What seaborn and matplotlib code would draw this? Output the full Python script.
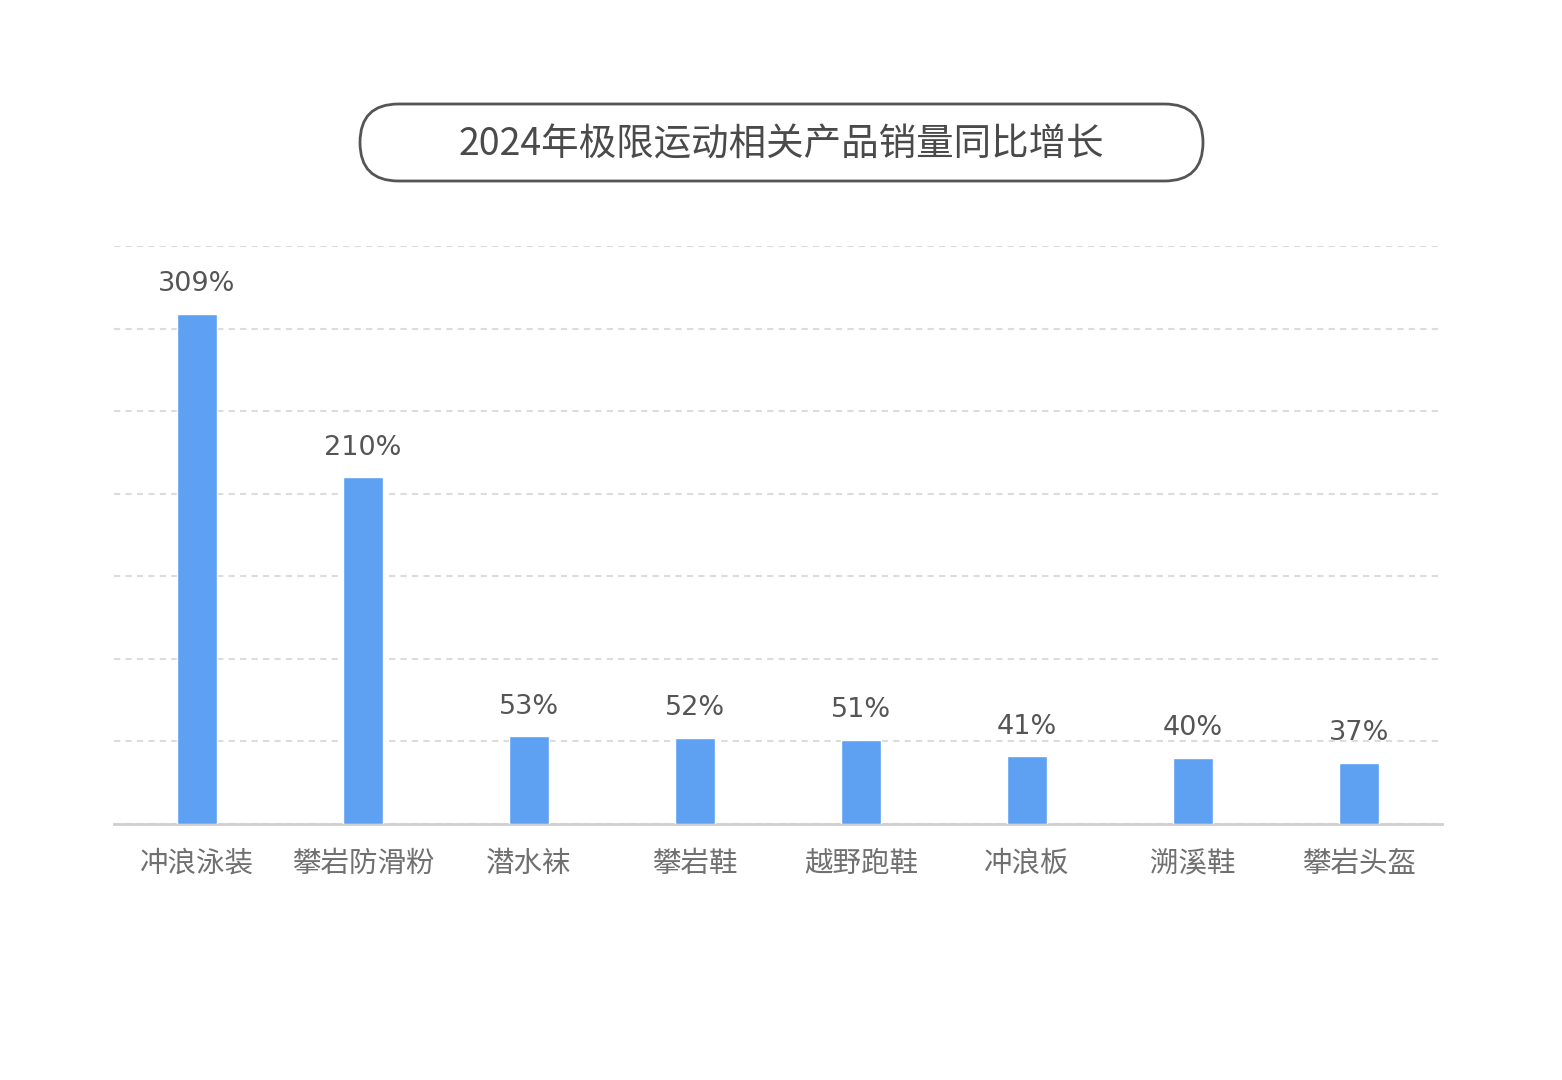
import matplotlib
matplotlib.use("Agg")
import matplotlib.pyplot as plt
import seaborn as sns
import pandas as pd
from matplotlib.patches import FancyBboxPatch

categories = ["冲浪泳装", "攀岩防滑粉", "潜水袜", "攀岩鞋", "越野跑鞋", "冲浪板", "溯溪鞋", "攀岩头盔"]
values = [309, 210, 53, 52, 51, 41, 40, 37]
labels = ["309%", "210%", "53%", "52%", "51%", "41%", "40%", "37%"]
title = "2024年极限运动相关产品销量同比增长"

sns.set_theme(style="white")
plt.rcParams['font.family'] = ['Noto Sans CJK SC', 'DejaVu Sans']

W, H = 1562, 1080
fig = plt.figure(figsize=(W / 100, H / 100), dpi=100)
fig.patch.set_facecolor("white")

# overlay axes in pixel coordinates for the title box
bg = fig.add_axes([0, 0, 1, 1], zorder=5)
bg.set_xlim(0, W)
bg.set_ylim(H, 0)
bg.axis("off")
bg.patch.set_alpha(0)
box = FancyBboxPatch((360, 104), 843, 77,
                     boxstyle="round,pad=0,rounding_size=38.5",
                     fill=False, edgecolor="#555555", linewidth=2.0)
bg.add_patch(box)
bg.text(781, 145, title, ha="center", va="center", fontsize=27, color="#4a4a4a")

ax = fig.add_axes([114 / W, 1 - 824 / H, (1442 - 114) / W, (824 - 246) / H])
df = pd.DataFrame({"cat": categories, "val": values})
sns.barplot(data=df, x="cat", y="val", color="#5EA1F2", saturation=1,
            width=0.24, ax=ax, zorder=3)
ax.set_xlim(-0.5, len(categories) - 0.5)
ax.set_ylim(0, 350)
ax.set_yticks(range(0, 351, 50))
ax.yaxis.grid(True, linestyle=(0, (3, 2.5)), color="#dcdcdc", linewidth=1.5, zorder=0)
ax.set_axisbelow(True)
ax.set_yticklabels([])
ax.tick_params(axis="y", length=0)
ax.tick_params(axis="x", length=0, pad=18, labelsize=20.5, labelcolor="#707070")
ax.set_xlabel("")
ax.set_ylabel("")
for s in ["top", "right", "left"]:
    ax.spines[s].set_visible(False)
ax.spines["bottom"].set_color("#cfcfcf")
ax.spines["bottom"].set_linewidth(2)

for i, (v, lab) in enumerate(zip(values, labels)):
    ax.annotate(lab, (i, v), xytext=(0, 12), textcoords="offset points",
                ha="center", va="bottom", fontsize=19.5, color="#555555",
                family=["DejaVu Sans"])

fig.savefig("out.png", dpi=100, facecolor="white")
